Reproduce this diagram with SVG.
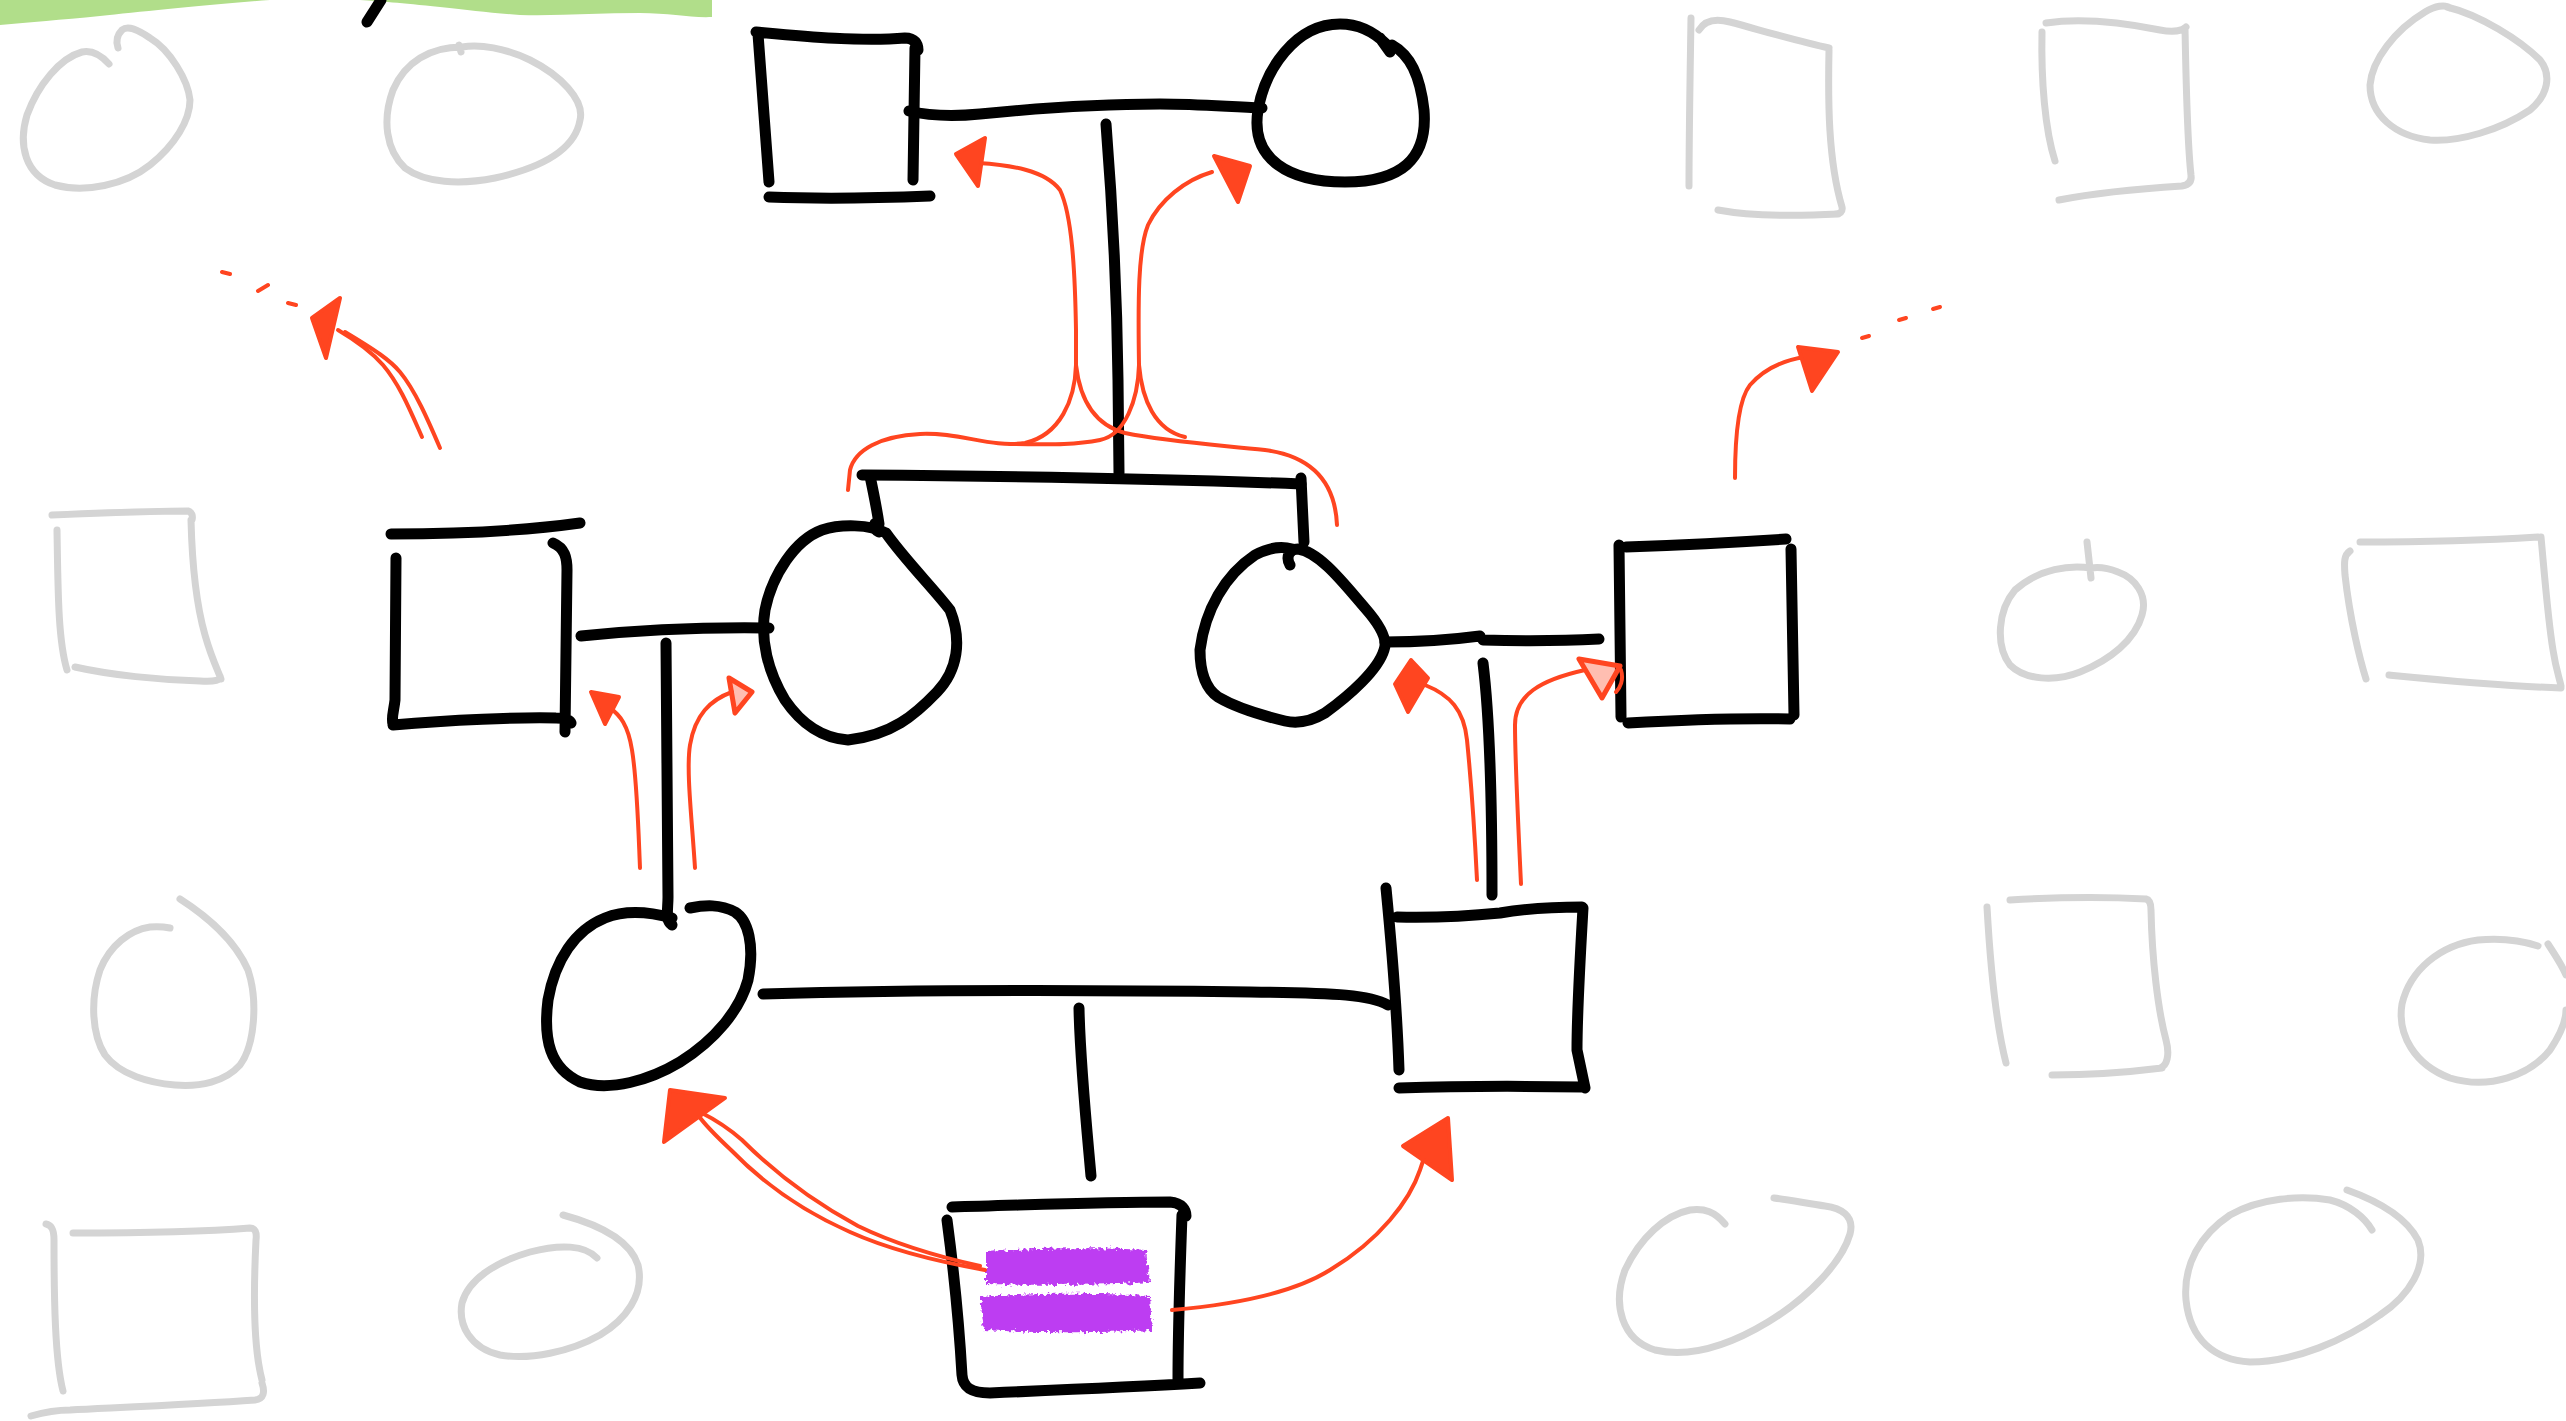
<svg xmlns="http://www.w3.org/2000/svg" width="2566" height="1421" viewBox="0 0 2566 1421">
<style>
.k{fill:none;stroke:#000;stroke-width:11;stroke-linecap:round;stroke-linejoin:round}
.g{fill:none;stroke:#d4d4d4;stroke-width:7;stroke-linecap:round;stroke-linejoin:round}
.r{fill:none;stroke:#ff4520;stroke-width:4;stroke-linecap:round;stroke-linejoin:round}
.h{fill:#ff4520;stroke:#ff4520;stroke-width:4;stroke-linejoin:round}
.ho{fill:#ff4520;fill-opacity:0.35;stroke:#ff4520;stroke-width:5;stroke-linejoin:round}
.p{fill:#bd3cf2}
</style>
<defs>
<filter id="chalk" x="-10%" y="-40%" width="120%" height="180%">
<feTurbulence type="fractalNoise" baseFrequency="0.3" numOctaves="2" seed="4" result="n"/>
<feDisplacementMap in="SourceGraphic" in2="n" scale="8" xChannelSelector="R" yChannelSelector="G"/>
</filter>
</defs>
<rect width="2566" height="1421" fill="#fff"/>
<path d="M0,0 H712 V17 C690,18 670,13 640,13 C600,13 560,16 520,15 C490,13 470,10 440,7 C400,3 380,1 360,0 L270,0 C200,5 140,12 100,16 C60,20 30,22 0,25 Z" fill="#b1de8a"/>
<path class="k" d="M367,22 L381,0"/>

<g id="background">
<g id="g1"><path class="g" d="M109,64 C100,54 92,50 82,52 C60,58 38,85 27,115 C18,145 25,175 55,185 C85,193 125,185 150,165 C175,145 190,120 190,100 C188,80 170,50 150,38 C138,30 128,25 122,30 C116,36 116,42 118,48"/></g>
<g id="g2"><path class="g" d="M462,47 C430,47 405,62 393,90 C382,120 386,150 405,168 C425,183 460,185 495,178 C540,168 575,150 580,120 C585,100 560,75 530,60 C505,48 480,44 462,47 M459,45 L461,52"/></g>
<g id="g3"><path class="g" d="M1691,18 C1690,80 1689,140 1689,186 M1699,30 C1705,20 1715,18 1730,22 C1760,30 1800,42 1829,48 M1829,50 C1828,100 1828,160 1842,207 C1843,212 1840,214 1835,214 M1718,210 C1750,216 1800,216 1838,214"/></g>
<g id="g4"><path class="g" d="M2046,23 C2080,18 2120,22 2160,30 C2175,33 2183,30 2186,27 M2042,32 C2041,80 2045,130 2055,161 M2185,28 C2186,80 2187,140 2191,175 C2192,182 2188,185 2182,186 M2059,200 C2100,192 2150,188 2182,186"/></g>
<g id="g5"><path class="g" d="M2447,7 C2480,15 2520,40 2540,60 C2552,75 2548,95 2530,110 C2500,130 2460,142 2430,140 C2395,136 2370,115 2370,85 C2372,60 2395,30 2425,12 C2435,6 2445,4 2450,8"/></g>
<g id="g6"><path class="g" d="M52,515 C100,513 150,511 188,511 C192,512 193,516 192,520 M57,530 C58,590 58,640 67,670 M191,520 C192,560 195,600 205,635 C212,660 220,675 221,679 M75,667 C110,675 160,680 200,681 C215,682 222,680 220,676"/></g>
<g id="g7"><path class="g" d="M180,899 C205,915 235,940 248,970 C258,1000 255,1045 240,1065 C225,1082 200,1087 175,1085 C150,1083 120,1075 105,1055 C92,1035 90,1000 100,970 C110,945 130,930 150,927 C160,926 165,927 170,928"/></g>
<g id="g8"><path class="g" d="M46,1224 C52,1225 54,1230 54,1240 C54,1300 55,1360 63,1391 M73,1233 C130,1233 200,1232 250,1228 C255,1228 257,1232 256,1240 M256,1240 C253,1300 254,1350 262,1380 M31,1416 C45,1412 55,1410 70,1410 C130,1407 200,1404 255,1400 C264,1399 265,1392 262,1383"/></g>
<g id="g9"><path class="g" d="M563,1215 C600,1225 630,1240 638,1265 C645,1295 625,1320 600,1335 C570,1352 530,1360 500,1355 C470,1348 458,1325 462,1303 C468,1280 495,1262 530,1252 C560,1244 585,1245 597,1258"/></g>
<g id="g10"><path class="g" d="M2087,542 L2091,578 M2091,568 C2070,565 2040,568 2015,590 C1998,610 1995,645 2010,665 C2025,680 2055,682 2080,672 C2110,660 2135,640 2142,615 C2148,595 2135,578 2118,572 C2108,568 2098,567 2091,568"/></g>
<g id="g11"><path class="g" d="M2350,551 C2344,555 2344,562 2345,575 C2350,620 2360,660 2366,679 M2360,542 C2420,542 2490,540 2538,537 M2541,537 C2545,580 2548,620 2553,650 C2556,670 2560,680 2561,686 M2389,675 C2440,680 2500,686 2561,688"/></g>
<g id="g12"><path class="g" d="M1987,907 C1990,960 1995,1020 2006,1063 M2010,900 C2060,897 2110,897 2146,899 C2150,900 2151,905 2151,910 M2151,910 C2152,960 2158,1010 2166,1040 C2170,1055 2167,1066 2160,1068 M2052,1075 C2090,1075 2130,1072 2162,1068"/></g>
<g id="g13"><path class="g" d="M2538,946 C2520,940 2500,938 2478,940 C2440,945 2410,970 2402,1004 C2397,1035 2415,1065 2450,1078 C2490,1090 2530,1075 2550,1050 C2560,1035 2566,1020 2566,1010 M2548,944 C2555,955 2562,965 2566,975"/></g>
<g id="g14"><path class="g" d="M1725,1224 C1715,1212 1705,1208 1690,1210 C1665,1215 1640,1238 1625,1270 C1612,1305 1622,1340 1655,1350 C1690,1358 1730,1345 1768,1322 C1808,1298 1842,1262 1850,1234 C1855,1215 1840,1208 1825,1206 C1810,1204 1790,1200 1774,1198"/></g>
<g id="g15"><path class="g" d="M2347,1190 C2375,1200 2405,1215 2418,1240 C2428,1265 2410,1295 2380,1315 C2345,1340 2295,1362 2250,1362 C2215,1360 2190,1340 2186,1300 C2183,1265 2200,1235 2230,1215 C2260,1198 2300,1195 2330,1200 C2350,1205 2365,1218 2372,1230"/></g>
</g>

<g id="connectors">
<path class="k" d="M909,111 C930,116 950,117 980,114 C1040,108 1100,104 1160,104 C1200,104 1230,107 1262,108"/>
<path class="k" d="M1106,124 C1112,200 1117,300 1118,380 L1119,473"/>
<path class="k" d="M862,475 C1000,476 1150,478 1301,484"/>
<path class="k" d="M870,476 C874,495 877,510 879,524 C874,520 872,528 879,532"/>
<path class="k" d="M1301,478 L1304,542"/>
<path class="k" d="M581,636 C640,630 700,627 769,628"/>
<path class="k" d="M666,643 L668,897 C668,910 665,920 672,925"/>
<path class="k" d="M1385,642 C1410,642 1450,640 1480,636 M1483,640 C1520,641 1560,641 1599,639"/>
<path class="k" d="M1483,663 C1490,720 1492,800 1492,895"/>
<path class="k" d="M763,994 C900,990 1100,990 1250,992 C1340,993 1370,995 1388,1005"/>
<path class="k" d="M1079,1008 C1080,1060 1086,1120 1091,1176"/>
</g>

<g id="gp_father"><path class="k" d="M756,32 C800,36 860,42 905,38 C915,38 918,44 918,50 M758,34 L769,182 M915,48 L913,180 M769,197 C820,199 880,198 930,196"/></g>
<g id="gp_mother"><path class="k" d="M1386,44 C1370,28 1355,24 1340,24 C1295,24 1265,70 1258,110 C1250,160 1290,182 1345,182 C1400,182 1428,160 1424,110 C1420,75 1410,55 1392,45 M1380,38 L1390,52"/></g>
<g id="in_law_left"><path class="k" d="M391,534 C460,534 530,530 580,523 M396,558 L395,700 C394,710 391,718 393,724 M393,725 C450,720 520,717 556,718 C565,718 570,720 571,723 M553,543 C565,548 567,558 567,570 L565,732"/></g>
<g id="daughter_left"><path class="k" d="M886,533 C905,560 935,590 950,610 C962,640 958,670 937,692 C915,715 892,735 848,740 C820,738 800,722 785,700 C768,672 760,640 765,610 C772,575 795,540 822,530 C840,524 870,524 886,533"/></g>
<g id="daughter_right"><path class="k" d="M1290,565 C1286,558 1288,549 1298,549 C1320,552 1345,585 1365,608 C1380,625 1388,640 1384,650 C1378,670 1350,695 1325,713 C1310,722 1298,724 1285,721 C1260,715 1235,707 1218,697 C1205,688 1200,670 1200,650 C1205,610 1225,575 1255,555 C1270,547 1282,546 1292,549"/></g>
<g id="in_law_right"><path class="k" d="M1626,547 C1680,545 1740,542 1786,539 M1619,545 L1621,717 M1791,549 L1794,715 M1628,723 C1680,720 1740,718 1790,719"/></g>
<g id="mother"><path class="k" d="M672,918 C650,912 625,910 605,918 C575,930 555,960 548,1000 C543,1040 550,1068 580,1082 C610,1092 650,1080 680,1062 C715,1040 740,1010 748,980 C755,945 748,920 735,912 C720,904 705,905 690,908"/></g>
<g id="father"><path class="k" d="M1386,888 C1392,950 1397,1010 1399,1070 M1397,917 C1440,918 1470,916 1500,913 C1530,908 1560,907 1582,907 M1583,908 C1580,960 1577,1010 1577,1050 L1585,1088 M1399,1088 C1460,1086 1520,1086 1583,1087"/></g>
<g id="proband">
<path class="k" d="M952,1207 C1030,1205 1100,1202 1170,1202 C1182,1203 1186,1210 1186,1216 M947,1220 C955,1280 960,1340 962,1375 C963,1388 972,1393 990,1393 M990,1393 C1060,1390 1130,1387 1200,1383 M1182,1215 C1180,1270 1178,1330 1178,1380"/>
<g filter="url(#chalk)">
<path class="p" d="M986,1252 C1030,1248 1100,1247 1146,1250 L1150,1282 C1100,1286 1030,1285 986,1284 Z"/>
<path class="p" d="M980,1297 C1030,1293 1100,1293 1150,1296 L1152,1330 C1100,1333 1030,1333 984,1330 Z"/>
</g>
</g>

<g id="arrows">
<path class="r" d="M978,163 C1010,165 1045,170 1060,190 C1072,215 1075,270 1076,330 L1076,365"/>
<path class="r" d="M1076,365 C1075,400 1060,435 1025,443 C990,448 960,432 920,434 C880,436 855,450 850,470 L848,490"/>
<path class="r" d="M1076,365 C1080,400 1095,425 1125,433 C1170,442 1220,445 1265,450 C1310,456 1335,480 1337,525"/>
<path class="r" d="M1212,172 C1185,180 1160,200 1148,225 C1138,250 1138,300 1139,365"/>
<path class="r" d="M1139,365 C1138,400 1125,435 1100,440 C1070,446 1040,444 1010,444"/>
<path class="r" d="M1139,365 C1142,400 1155,430 1185,437"/>
<polygon class="h" points="956,154 985,138 978,186"/>
<polygon class="h" points="1214,156 1250,166 1238,202"/>

<path class="r" d="M422,437 C410,410 400,385 383,365 C370,350 355,340 338,330"/>
<path class="r" d="M440,448 C428,420 415,390 400,372 C390,360 375,350 345,332"/>
<polygon class="h" points="312,318 340,298 326,358"/>
<path class="r" d="M222,272 L230,274 M258,291 L268,285 M288,303 L296,305"/>

<path class="r" d="M1735,478 C1735,440 1738,400 1750,385 C1765,368 1785,360 1805,357"/>
<polygon class="h" points="1798,347 1838,352 1812,391"/>
<path class="r" d="M1862,338 L1869,336 M1899,320 L1906,318 M1933,309 L1940,307"/>

<path class="r" d="M640,868 C638,820 637,780 632,750 C628,725 620,715 610,708"/>
<polygon class="h" points="591,692 619,697 605,724"/>
<path class="r" d="M695,868 C692,820 686,770 690,745 C695,715 710,700 732,692"/>
<polygon class="ho" points="729,678 752,692 735,713"/>

<path class="r" d="M1477,880 C1474,820 1470,770 1467,740 C1464,710 1450,695 1425,685"/>
<polygon class="h" points="1411,660 1428,678 1408,712 1395,684"/>
<path class="r" d="M1521,884 C1518,820 1515,760 1515,725 C1515,695 1540,680 1585,670"/>
<polygon class="ho" points="1579,659 1620,666 1602,698"/>
<path class="r" d="M1621,670 C1624,680 1620,688 1616,692"/>

<path class="r" d="M985,1270 C940,1262 890,1250 850,1232 C800,1210 760,1180 731,1150 C715,1135 705,1125 698,1115"/>
<path class="r" d="M980,1266 C935,1256 895,1244 858,1226 C810,1200 772,1170 742,1140 C725,1125 712,1118 700,1112"/>
<polygon class="h" points="670,1090 725,1098 664,1142"/>
<path class="r" d="M1172,1310 C1230,1305 1290,1295 1330,1270 C1380,1240 1410,1200 1420,1170 L1430,1140"/>
<polygon class="h" points="1448,1118 1403,1146 1452,1180"/>
</g>
</svg>
